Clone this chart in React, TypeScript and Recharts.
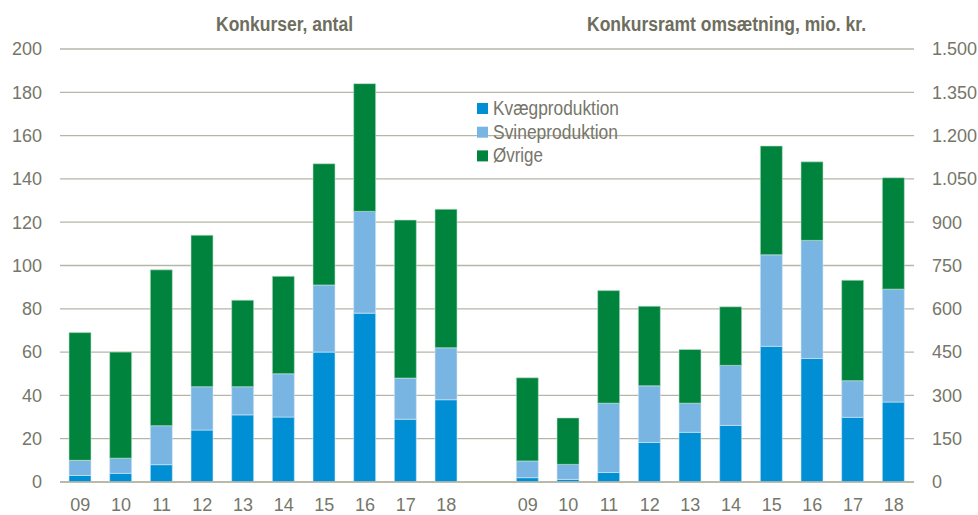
import { BarChart, Bar, XAxis, YAxis, CartesianGrid } from "recharts";

const YEARS = ["09", "10", "11", "12", "13", "14", "15", "16", "17", "18"];

// Konkurser, antal
const COUNT_KVAEG = [3, 4, 8, 24, 31, 30, 60, 78, 29, 38];
const COUNT_SVINE = [7, 7, 18, 20, 13, 20, 31, 47, 19, 24];
const COUNT_OVRIGE = [59, 49, 72, 70, 40, 45, 56, 59, 73, 64];

// Konkursramt omsætning, mio. kr.
const TURN_KVAEG = [15, 9, 33, 137, 172, 196, 470, 428, 224, 277];
const TURN_SVINE = [58, 52, 240, 196, 101, 208, 317, 409, 127, 391];
const TURN_OVRIGE = [288, 161, 390, 276, 186, 203, 377, 272, 348, 386];

const LEFT_TICKS = [0, 20, 40, 60, 80, 100, 120, 140, 160, 180, 200];
const RIGHT_TICKS = [0, 150, 300, 450, 600, 750, 900, 1050, 1200, 1350, 1500];

const SERIES = [
  { name: "Kvægproduktion", color: "#008fd5", w: 126 },
  { name: "Svineproduktion", color: "#79b5e3", w: 125 },
  { name: "Øvrige", color: "#00843d", w: 50 },
];

const data = [
  ...YEARS.map((y, i) => ({
    key: "L" + y,
    lk: COUNT_KVAEG[i],
    ls: COUNT_SVINE[i],
    lo: COUNT_OVRIGE[i],
  })),
  { key: "gap" },
  ...YEARS.map((y, i) => ({
    key: "R" + y,
    rk: TURN_KVAEG[i],
    rs: TURN_SVINE[i],
    ro: TURN_OVRIGE[i],
  })),
];

const labelOf = (k: string) => (k === "gap" ? "" : k.slice(1));
const fmtDk = (v: number) => String(v).replace(/\B(?=(\d{3})+(?!\d))/g, ".");

const TEXT = "#76766a";
const GRID = "#b6b6a6";
const FONT = "'Liberation Sans', Arial, sans-serif";

export default function App() {
  const tick = { fill: TEXT, fontSize: 18, fontFamily: FONT };
  return (
    <div style={{ position: "absolute", left: 0, top: 0, width: 978, height: 515, background: "#fff" }}>
      <BarChart
        width={978}
        height={515}
        data={data}
        margin={{ top: 49, right: 0, left: 0, bottom: 3 }}
        barSize={22}
      >
        <CartesianGrid vertical={false} stroke={GRID} strokeWidth={1.3} yAxisId="left" />
        <XAxis
          xAxisId="l"
          dataKey="key"
          tickFormatter={labelOf}
          interval={0}
          axisLine={{ stroke: GRID, strokeWidth: 1.3 }}
          tickLine={false}
          tickSize={0}
          tickMargin={16}
          height={30}
          tick={tick}
        />
        <XAxis xAxisId="r" dataKey="key" hide />
        <YAxis
          yAxisId="left"
          domain={[0, 200]}
          ticks={LEFT_TICKS}
          axisLine={false}
          tickLine={false}
          tickSize={0}
          tickMargin={18}
          width={60}
          tick={tick}
        />
        <YAxis
          yAxisId="right"
          orientation="right"
          domain={[0, 1500]}
          ticks={RIGHT_TICKS}
          tickFormatter={fmtDk}
          axisLine={false}
          tickLine={false}
          tickSize={0}
          tickMargin={18}
          width={64}
          tick={{ ...tick, textAnchor: "start" }}
        />
        <Bar xAxisId="l" yAxisId="left" dataKey="lk" stackId="l" fill={SERIES[0].color} stroke="#cfe9f6" strokeWidth={0.6} isAnimationActive={false} />
        <Bar xAxisId="l" yAxisId="left" dataKey="ls" stackId="l" fill={SERIES[1].color} stroke="#d6e8f6" strokeWidth={0.6} isAnimationActive={false} />
        <Bar xAxisId="l" yAxisId="left" dataKey="lo" stackId="l" fill={SERIES[2].color} stroke="#bfe0cc" strokeWidth={0.6} isAnimationActive={false} />
        <Bar xAxisId="r" yAxisId="right" dataKey="rk" stackId="r" fill={SERIES[0].color} stroke="#cfe9f6" strokeWidth={0.6} isAnimationActive={false} />
        <Bar xAxisId="r" yAxisId="right" dataKey="rs" stackId="r" fill={SERIES[1].color} stroke="#d6e8f6" strokeWidth={0.6} isAnimationActive={false} />
        <Bar xAxisId="r" yAxisId="right" dataKey="ro" stackId="r" fill={SERIES[2].color} stroke="#bfe0cc" strokeWidth={0.6} isAnimationActive={false} />
        <text x={216} y={31} textLength={137} lengthAdjust="spacingAndGlyphs" fill="#6e6e5e" fontSize={20} fontWeight="bold" fontFamily={FONT}>
          Konkurser, antal
        </text>
        <text x={587} y={31} textLength={279} lengthAdjust="spacingAndGlyphs" fill="#6e6e5e" fontSize={20} fontWeight="bold" fontFamily={FONT}>
          Konkursramt omsætning, mio. kr.
        </text>
        {SERIES.map((s, i) => (
          <g key={s.name}>
            <rect x={477} y={103 + i * 23.7} width={11} height={11} fill={s.color} />
            <text x={493} y={115 + i * 23.7} textLength={s.w} lengthAdjust="spacingAndGlyphs" fill={TEXT} fontSize={19.5} fontFamily={FONT}>
              {s.name}
            </text>
          </g>
        ))}
      </BarChart>
    </div>
  );
}
